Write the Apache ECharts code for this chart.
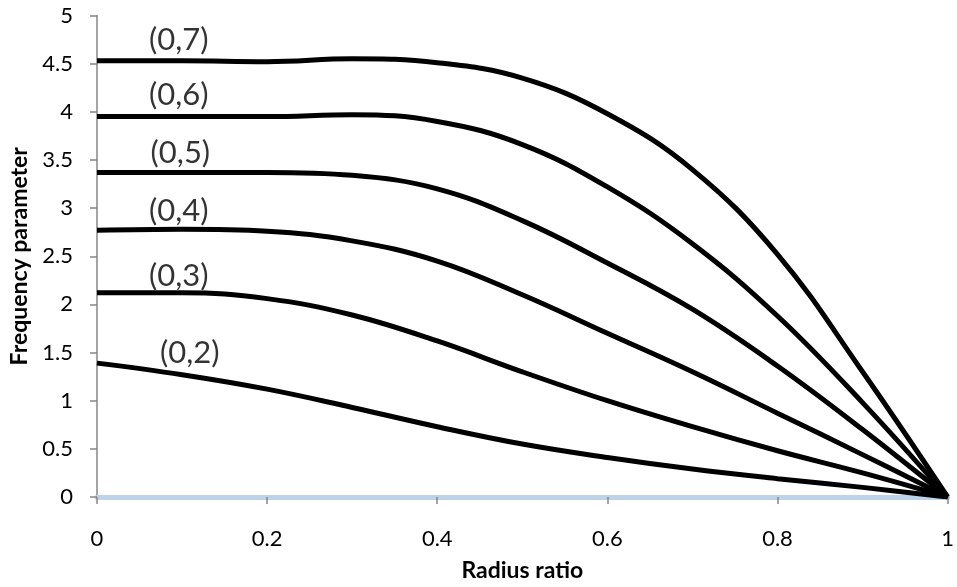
<!DOCTYPE html>
<html lang="en">
<head>
    <meta charset="UTF-8">
    <title>Frequency parameter vs radius ratio</title>
    <script src="https://cdn.jsdelivr.net/npm/echarts@6.0.0/dist/echarts.min.js"></script>
    <style>
        html, body { margin: 0; padding: 0; background: #fff; }
        #main { width: 957px; height: 587px; }
    </style>
</head>
<body>
    <div id="main"></div>
    <script>
        // radius ratio samples
        var radius = [0, 0.1, 0.2, 0.3, 0.4, 0.5, 0.6, 0.7, 0.8, 0.9, 1];

        // frequency parameter for each mode
        var mode02 = [1.39, 1.27, 1.12, 0.93, 0.73, 0.55, 0.41, 0.29, 0.19, 0.10, 0];
        var mode03 = [2.12, 2.12, 2.06, 1.89, 1.62, 1.30, 1.00, 0.73, 0.48, 0.25, 0];
        var mode04 = [2.77, 2.78, 2.76, 2.66, 2.45, 2.10, 1.70, 1.30, 0.87, 0.44, 0];
        var mode05 = [3.37, 3.37, 3.37, 3.34, 3.20, 2.87, 2.43, 1.95, 1.36, 0.70, 0];
        var mode06 = [3.95, 3.95, 3.95, 3.97, 3.90, 3.66, 3.22, 2.63, 1.88, 0.98, 0];
        var mode07 = [4.53, 4.53, 4.52, 4.55, 4.51, 4.35, 3.98, 3.40, 2.52, 1.30, 0];

        var modeNames = ['(0,2)', '(0,3)', '(0,4)', '(0,5)', '(0,6)', '(0,7)'];
        var modes = [mode02, mode03, mode04, mode05, mode06, mode07];

        // where the mode labels sit, in data units
        var labelX = [0.109, 0.096, 0.096, 0.098, 0.096, 0.096];
        var labelY = [1.50, 2.30, 2.97, 3.57, 4.17, 4.75];

        var chart = echarts.init(document.getElementById('main'));

        var font = 'Lato, "Open Sans", sans-serif';

        var series = modes.map(function (vals, i) {
            return {
                name: modeNames[i],
                type: 'line',
                smooth: 0.4,
                symbol: 'none',
                lineStyle: { color: '#000', width: 5 },
                data: radius.map(function (r, j) { return [r, vals[j]]; })
            };
        });

        series.push({
            type: 'scatter',
            symbolSize: 0,
            silent: true,
            label: {
                show: true,
                position: 'inside',
                formatter: '{b}',
                color: '#000',
                fontFamily: font,
                fontSize: 31
            },
            data: modeNames.map(function (n, i) {
                return { name: n, value: [labelX[i], labelY[i]] };
            })
        });

        var option = {
            animation: false,
            backgroundColor: '#fff',
            grid: { left: 95, right: 8, top: 15.5, bottom: 87, containLabel: false },
            xAxis: {
                type: 'value',
                min: 0, max: 1, interval: 0.2,
                name: 'Radius ratio',
                nameLocation: 'middle',
                nameGap: 62,
                nameTextStyle: { fontFamily: font, fontWeight: 'bold', fontSize: 23, color: '#000' },
                axisLine: { lineStyle: { color: '#bcd3ea', width: 5 } },
                axisTick: { show: true, length: 7, lineStyle: { color: '#868686', width: 1.5 } },
                axisLabel: { margin: 31, fontFamily: font, fontSize: 22, color: '#000' },
                splitLine: { show: false }
            },
            yAxis: {
                type: 'value',
                min: 0, max: 5, interval: 0.5,
                name: 'Frequency parameter',
                nameLocation: 'middle',
                nameRotate: 90,
                nameGap: 66,
                nameTextStyle: { fontFamily: font, fontWeight: 'bold', fontSize: 23, color: '#000' },
                axisLine: { show: true, lineStyle: { color: '#868686', width: 1.5 } },
                axisTick: { show: true, length: 7, lineStyle: { color: '#868686', width: 1.5 } },
                axisLabel: { margin: 24, fontFamily: font, fontSize: 22, color: '#000' },
                splitLine: { show: false }
            },
            series: series
        };

        chart.setOption(option);
    </script>
</body>
</html>
